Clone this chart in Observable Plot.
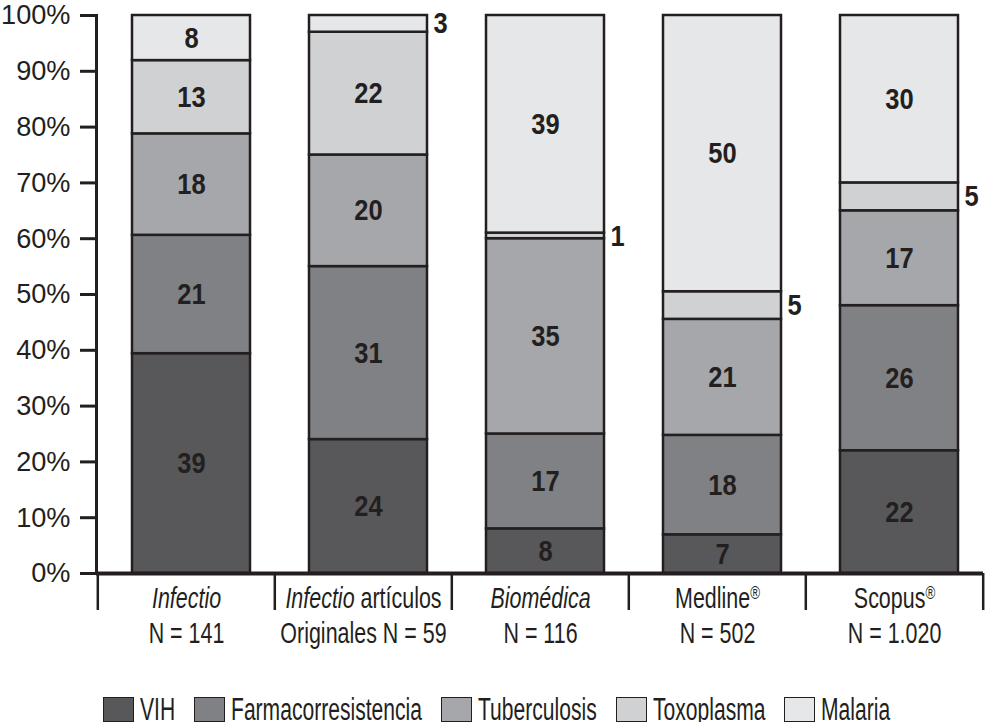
<!DOCTYPE html>
<html><head><meta charset="utf-8">
<script src="https://cdn.jsdelivr.net/npm/d3@7"></script>
<script src="https://cdn.jsdelivr.net/npm/@observablehq/plot@0.6"></script>
<style>
body{margin:0;background:#fff;font-family:"Liberation Sans",Arial,sans-serif;}
#legend{display:flex;align-items:center;margin-left:103px;margin-top:37px;font-size:31px;color:#231f20;line-height:25px;white-space:nowrap}
.item{display:flex;align-items:center}
.sw{width:31px;height:25px;border:1.5px solid #231f20;box-sizing:border-box;margin-right:6px;flex:none}
.lab{display:inline-block;transform-origin:0 50%}
</style></head><body><div id="chart"></div><div id="legend"></div>
<script>
const revistas = ["Infectio", "Infectio artículos", "Biomédica", "Medline®", "Scopus®"];
const tamanos = ["N = 141", "Originales N = 59", "N = 116", "N = 502", "N = 1.020"];
const series = ["VIH", "Farmacorresistencia", "Tuberculosis", "Toxoplasma", "Malaria"];
const colores = ["#58585a", "#808184", "#a6a7aa", "#d0d1d3", "#e6e7e8"];
const vih = [39, 24, 8, 7, 22];
const farmaco = [21, 31, 17, 18, 26];
const tuberculosis = [18, 20, 35, 21, 17];
const toxoplasma = [13, 22, 1, 5, 5];
const malaria = [8, 3, 39, 50, 30];
const yTicks = [0, 0.1, 0.2, 0.3, 0.4, 0.5, 0.6, 0.7, 0.8, 0.9, 1];

const valores = [vih, farmaco, tuberculosis, toxoplasma, malaria];
const data = revistas.flatMap((r, i) => series.map((s, j) => ({revista: r, serie: s, valor: valores[j][i]})));

const FONT = '"Liberation Sans",Arial,sans-serif';
const INK = "#231f20";
const W = 985, H = 660, ML = 96, MR = 2, MT = 15, MB = 87;
const PI = 0.335;
const step = (W - ML - MR) / revistas.length;
const halfStep = step / 2;
const barHalf = step * (1 - PI) / 2;
const BDX = 5;

const stackOpts = {x: "revista", y: "valor", z: "serie", order: series, offset: "normalize"};

const chart = Plot.plot({
  width: W, height: H, marginLeft: ML, marginRight: MR, marginTop: MT, marginBottom: MB,
  style: {fontFamily: FONT, background: "#fff", color: INK, overflow: "visible"},
  x: {domain: revistas, paddingInner: PI, paddingOuter: PI / 2},
  y: {domain: [0, 1]},
  color: {domain: series, range: colores},
  marks: [
    Plot.barY(data, Plot.stackY({...stackOpts, fill: "serie", stroke: INK, strokeWidth: 2.5, dx: BDX})),
    Plot.text(data, Plot.stackY({...stackOpts, text: d => d.valor > 5 ? String(d.valor) : "", fontSize: 30, fontWeight: "bold", fill: INK, dx: BDX, className: "num"})),
    Plot.text(data, Plot.stackY({...stackOpts, text: d => d.valor <= 5 ? String(d.valor) : "", fontSize: 30, fontWeight: "bold", fill: INK, textAnchor: "start", dx: BDX + barHalf + 6, className: "num"})),
    Plot.axisY({ticks: yTicks, tickFormat: d3.format(".0%"), tickSize: 16, tickPadding: 10, fontSize: 28, strokeWidth: 3, label: null, fill: INK, stroke: INK, className: "ytl"}),
    Plot.axisX({tickSize: 37, tickFormat: () => "", dx: -halfStep, strokeWidth: 2.5, label: null, stroke: INK}),
    Plot.axisX({ticks: [revistas[revistas.length - 1]], tickSize: 37, tickFormat: () => "", dx: halfStep, strokeWidth: 2.5, label: null, stroke: INK}),
    Plot.axisX({tickSize: 0, tickPadding: 10, tickFormat: d => d + "\n" + tamanos[revistas.indexOf(d)], fontSize: 29, lineHeight: 1.2, label: null, fill: INK, className: "xtl"}),
    Plot.ruleY([0], {strokeWidth: 4, stroke: INK}),
    Plot.frame({anchor: "left", strokeWidth: 3, stroke: INK})
  ]
});

// Estilos mixtos en las etiquetas de categoría
chart.querySelectorAll("tspan").forEach(t => {
  const s = t.textContent;
  if (s === "Infectio" || s === "Biomédica") {
    t.innerHTML = `<tspan font-style="italic">${s}</tspan>`;
  } else if (s.startsWith("Infectio ")) {
    t.innerHTML = `<tspan font-style="italic">Infectio</tspan>${s.slice(8)}`;
  } else if (s.endsWith("®")) {
    t.innerHTML = `${s.slice(0, -1)}<tspan baseline-shift="super" font-size="62%">®</tspan>`;
  }
});

// Tipografía condensada: compresión horizontal alrededor del ancla de cada texto
function condensar(sel, s) {
  chart.querySelectorAll(sel).forEach(t => {
    let tr = t.getAttribute("transform") || "";
    const x = t.getAttribute("x");
    if (x !== null && !isNaN(+x)) { tr += ` translate(${x},0)`; t.removeAttribute("x"); }
    t.setAttribute("transform", tr + ` scale(${s},1)`);
  });
}
condensar(".num text", 0.85);
condensar(".ytl text", 0.97);
condensar(".xtl text", 0.74);
document.getElementById("chart").appendChild(chart);

const legend = document.getElementById("legend");
const LS = 0.68;
series.forEach((s, i) => {
  const it = document.createElement("div");
  it.className = "item";
  it.innerHTML = `<div class="sw" style="background:${colores[i]}"></div><span class="lab">${s}</span>`;
  legend.appendChild(it);
  const lab = it.querySelector(".lab");
  const w = lab.offsetWidth;
  lab.style.transform = `scaleX(${LS})`;
  lab.style.marginRight = `${-(1 - LS) * w + 19}px`;
});
</script>
</body></html>
